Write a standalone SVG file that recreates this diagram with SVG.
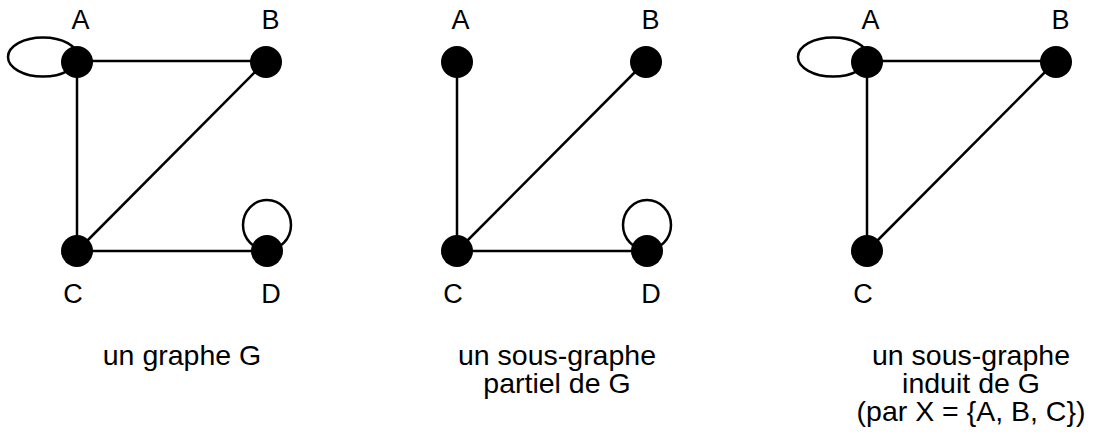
<svg xmlns="http://www.w3.org/2000/svg" width="1093" height="439" viewBox="0 0 1093 439">
<style>
.e{stroke:#000;stroke-width:2.5;fill:none}
.n{fill:#000}
.l{font-family:"Liberation Sans",Arial,sans-serif;font-size:27px;fill:#000;text-anchor:middle}
.c{font-family:"Liberation Sans",Arial,sans-serif;font-size:28.5px;fill:#000;text-anchor:middle}
</style>
<rect width="1093" height="439" fill="#fff"/>
<g id="connectors">
  <ellipse class="e" cx="43" cy="57" rx="35" ry="19.5"/>
  <ellipse class="e" cx="267" cy="225" rx="24" ry="25"/>
  <line class="e" x1="77" y1="61" x2="266" y2="61"/>
  <line class="e" x1="77" y1="61" x2="77" y2="251"/>
  <line class="e" x1="77" y1="251" x2="266" y2="61"/>
  <line class="e" x1="77" y1="251" x2="267" y2="251"/>
  <ellipse class="e" cx="647" cy="225" rx="24" ry="25"/>
  <line class="e" x1="457" y1="61" x2="457" y2="251"/>
  <line class="e" x1="457" y1="251" x2="646" y2="61"/>
  <line class="e" x1="457" y1="251" x2="647" y2="251"/>
  <ellipse class="e" cx="833" cy="57" rx="35" ry="19.5"/>
  <line class="e" x1="867" y1="61" x2="1056" y2="61"/>
  <line class="e" x1="867" y1="61" x2="867" y2="251"/>
  <line class="e" x1="867" y1="251" x2="1056" y2="61"/>
</g>
<g id="g1-A"><circle class="n" cx="77" cy="62" r="16"/><text class="l" x="80.5" y="29">A</text></g>
<g id="g1-B"><circle class="n" cx="266" cy="62" r="16"/><text class="l" x="270.5" y="29">B</text></g>
<g id="g1-C"><circle class="n" cx="77" cy="251" r="16"/><text class="l" x="73" y="303">C</text></g>
<g id="g1-D"><circle class="n" cx="267" cy="251" r="16"/><text class="l" x="271" y="303">D</text></g>
<g id="g2-A"><circle class="n" cx="457" cy="62" r="16"/><text class="l" x="460.5" y="29">A</text></g>
<g id="g2-B"><circle class="n" cx="646" cy="62" r="16"/><text class="l" x="650.5" y="29">B</text></g>
<g id="g2-C"><circle class="n" cx="457" cy="251" r="16"/><text class="l" x="453" y="303">C</text></g>
<g id="g2-D"><circle class="n" cx="647" cy="251" r="16"/><text class="l" x="651" y="303">D</text></g>
<g id="g3-A"><circle class="n" cx="867" cy="62" r="16"/><text class="l" x="870.5" y="29">A</text></g>
<g id="g3-B"><circle class="n" cx="1056" cy="62" r="16"/><text class="l" x="1060.5" y="29">B</text></g>
<g id="g3-C"><circle class="n" cx="867" cy="251" r="16"/><text class="l" x="863" y="303">C</text></g>
<g id="captions">
  <text class="c" x="182" y="365">un graphe G</text>
  <text class="c" x="557" y="365">un sous-graphe</text>
  <text class="c" x="557" y="393">partiel de G</text>
  <text class="c" x="971" y="365">un sous-graphe</text>
  <text class="c" x="971" y="393">induit de G</text>
  <text class="c" x="971" y="421">(par X = {A, B, C})</text>
</g>
</svg>
